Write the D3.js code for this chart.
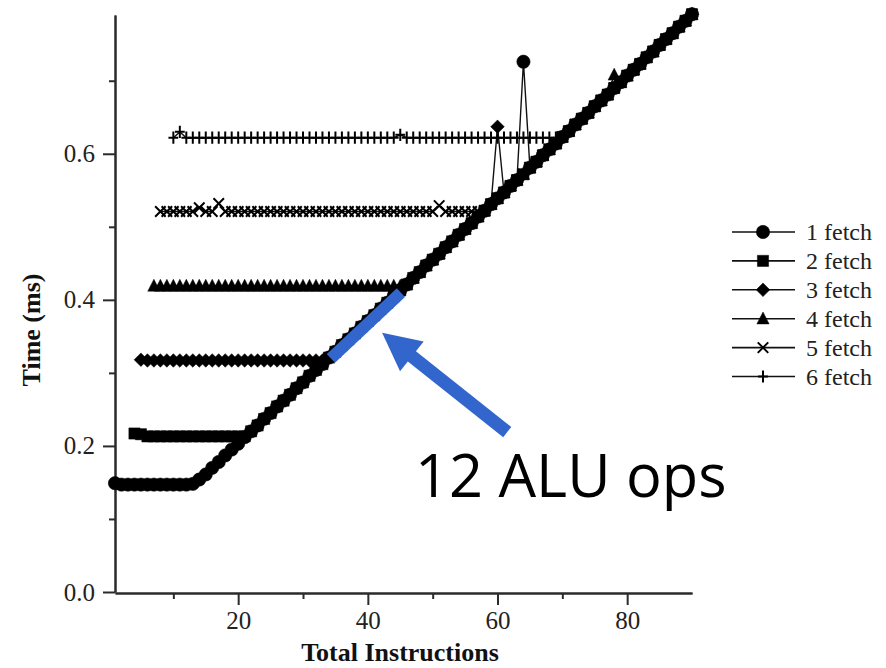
<!DOCTYPE html>
<html><head><meta charset="utf-8">
<script src="https://cdn.jsdelivr.net/npm/d3@7"></script>
<style>body{margin:0;background:#fff;} svg{display:block;}</style>
</head><body><svg id="chart" width="886" height="668"></svg>
<script>
// ---------------- DATA ----------------
const seriesNames = ["1 fetch", "2 fetch", "3 fetch", "4 fetch", "5 fetch", "6 fetch"];
const seriesStart = [1, 4, 5, 7, 8, 10];   // first "Total Instructions" value of each series

const fetch1 = [ // x = 1..90
  0.149,0.147,0.147,0.147,0.147,0.147,0.147,0.147,0.147,0.147,
  0.147,0.147,0.148,0.154,0.161,0.170,0.178,0.187,0.195,0.203,
  0.212,0.220,0.228,0.237,0.245,0.254,0.262,0.270,0.279,0.287,
  0.296,0.304,0.312,0.321,0.329,0.338,0.346,0.354,0.363,0.371,
  0.379,0.388,0.396,0.405,0.413,0.421,0.430,0.438,0.447,0.455,
  0.463,0.472,0.480,0.489,0.497,0.505,0.514,0.522,0.531,0.539,
  0.547,0.556,0.564,0.726,0.581,0.589,0.598,0.606,0.614,0.623,
  0.631,0.640,0.648,0.656,0.665,0.673,0.681,0.690,0.698,0.707,
  0.715,0.723,0.732,0.740,0.749,0.757,0.765,0.774,0.782,0.791
];
const fetch2 = [ // x = 4..90
                    0.217,0.216,0.213,0.213,0.213,0.213,0.213,
  0.213,0.213,0.213,0.213,0.213,0.213,0.213,0.213,0.213,0.213,
  0.213,0.220,0.228,0.237,0.245,0.254,0.262,0.270,0.279,0.287,
  0.296,0.304,0.312,0.321,0.329,0.338,0.346,0.354,0.363,0.371,
  0.379,0.388,0.396,0.405,0.413,0.421,0.430,0.438,0.447,0.455,
  0.463,0.472,0.480,0.489,0.497,0.505,0.514,0.522,0.531,0.539,
  0.547,0.556,0.564,0.572,0.581,0.589,0.598,0.606,0.614,0.623,
  0.631,0.640,0.648,0.656,0.665,0.673,0.681,0.690,0.698,0.707,
  0.715,0.723,0.732,0.740,0.749,0.757,0.765,0.774,0.782,0.791
];
const fetch3 = [ // x = 5..90
                          0.318,0.317,0.317,0.317,0.317,0.317,
  0.317,0.317,0.317,0.317,0.317,0.317,0.317,0.317,0.317,0.317,
  0.317,0.317,0.317,0.317,0.317,0.317,0.317,0.317,0.317,0.317,
  0.317,0.317,0.317,0.321,0.329,0.338,0.346,0.354,0.363,0.371,
  0.379,0.388,0.396,0.405,0.413,0.421,0.430,0.438,0.447,0.455,
  0.463,0.472,0.480,0.489,0.497,0.505,0.514,0.522,0.531,0.637,
  0.547,0.556,0.564,0.572,0.581,0.589,0.598,0.606,0.614,0.623,
  0.631,0.640,0.648,0.656,0.665,0.673,0.681,0.690,0.698,0.707,
  0.715,0.723,0.732,0.740,0.749,0.757,0.765,0.774,0.782,0.791
];
const fetch4 = [ // x = 7..90
                                      0.419,0.419,0.419,0.419,
  0.419,0.419,0.419,0.419,0.419,0.419,0.419,0.419,0.419,0.419,
  0.419,0.419,0.419,0.419,0.419,0.419,0.419,0.419,0.419,0.419,
  0.419,0.419,0.419,0.419,0.419,0.419,0.419,0.419,0.419,0.419,
  0.419,0.419,0.419,0.419,0.419,0.421,0.430,0.438,0.447,0.455,
  0.463,0.472,0.480,0.489,0.497,0.505,0.514,0.522,0.531,0.539,
  0.547,0.556,0.564,0.572,0.581,0.589,0.598,0.606,0.614,0.623,
  0.631,0.640,0.648,0.656,0.665,0.673,0.681,0.708,0.698,0.707,
  0.715,0.723,0.732,0.740,0.749,0.757,0.765,0.774,0.782,0.791
];
const fetch5 = [ // x = 8..90
                                            0.521,0.521,0.521,
  0.521,0.521,0.521,0.526,0.521,0.521,0.532,0.521,0.521,0.521,
  0.521,0.521,0.521,0.521,0.521,0.521,0.521,0.521,0.521,0.521,
  0.521,0.521,0.521,0.521,0.521,0.521,0.521,0.521,0.521,0.521,
  0.521,0.521,0.521,0.521,0.521,0.521,0.521,0.521,0.521,0.521,
  0.529,0.521,0.521,0.521,0.521,0.521,0.521,0.522,0.531,0.539,
  0.547,0.556,0.564,0.572,0.581,0.589,0.598,0.606,0.614,0.623,
  0.631,0.640,0.648,0.656,0.665,0.673,0.681,0.690,0.698,0.707,
  0.715,0.723,0.732,0.740,0.749,0.757,0.765,0.774,0.782,0.791
];
const fetch6 = [ // x = 10..90
                                                        0.622,
  0.630,0.622,0.622,0.622,0.622,0.622,0.622,0.622,0.622,0.622,
  0.622,0.622,0.622,0.622,0.622,0.622,0.622,0.622,0.622,0.622,
  0.622,0.622,0.622,0.622,0.622,0.622,0.622,0.622,0.622,0.622,
  0.622,0.622,0.622,0.622,0.626,0.622,0.622,0.622,0.622,0.622,
  0.622,0.622,0.622,0.622,0.622,0.622,0.622,0.622,0.622,0.622,
  0.622,0.622,0.622,0.622,0.622,0.622,0.622,0.622,0.622,0.623,
  0.631,0.640,0.648,0.656,0.665,0.673,0.681,0.690,0.698,0.707,
  0.715,0.723,0.732,0.740,0.749,0.757,0.765,0.774,0.782,0.791
];

const xMajorTicks = [20, 40, 60, 80];
const xTickLabels = ["20", "40", "60", "80"];
const xMinorTicks = [10, 30, 50, 70];
const yMajorTicks = [0, 0.2, 0.4, 0.6];
const yTickLabels = ["0.0", "0.2", "0.4", "0.6"];
const yMinorTicks = [0.1, 0.3, 0.5, 0.7];

const xTitle = "Total Instructions";
const yTitle = "Time (ms)";
const annotationText = "12 ALU ops";
// highlighted stretch of the compute-bound line and arrow (data space)
const highlightSeg = [[34.3, 0.320], [45.1, 0.410]];
const arrowSeg = [[61.5, 0.219], [42.2, 0.355]];

// ---------------- CHART ----------------
const svg = d3.select("#chart");
const serif = "'Liberation Serif','Times New Roman',serif";
const x = d3.scaleLinear().domain([1, 90]).range([115, 692]);
const y = d3.scaleLinear().domain([0, 0.79]).range([592, 15]);

const allSeries = [fetch1, fetch2, fetch3, fetch4, fetch5, fetch6].map((vals, i) =>
  vals.map((v, j) => [seriesStart[i] + j, v]));

// custom symbol shapes
const symDiamond = { draw(c, s) { const r = Math.sqrt(s) / 2; c.moveTo(0, -r); c.lineTo(r, 0); c.lineTo(0, r); c.lineTo(-r, 0); c.closePath(); } };
const symTriangle = { draw(c, s) { const r = Math.sqrt(s) / 2; c.moveTo(0, -r * 1.1); c.lineTo(r, r * 0.85); c.lineTo(-r, r * 0.85); c.closePath(); } };
const symTimes = { draw(c, s) { const r = Math.sqrt(s) / 2; c.moveTo(-r, -r); c.lineTo(r, r); c.moveTo(r, -r); c.lineTo(-r, r); } };
const symPlus = { draw(c, s) { const r = Math.sqrt(s) / 2; c.moveTo(0, -r); c.lineTo(0, r); c.moveTo(-r * 0.8, 0); c.lineTo(r * 0.8, 0); } };

const markerDefs = [
  { type: d3.symbolCircle, size: 140, filled: true },
  { type: d3.symbolSquare, size: 125, filled: true },
  { type: symDiamond, size: 185, filled: true },
  { type: symTriangle, size: 150, filled: true },
  { type: symTimes, size: 110, filled: false },
  { type: symPlus, size: 150, filled: false }
];

// axes
const axisColor = "#2b2b2b";
function styleAxis(g) {
  g.selectAll("path.domain").attr("stroke", axisColor).attr("stroke-width", 2);
  g.selectAll(".tick line").attr("stroke", axisColor).attr("stroke-width", 2);
  g.selectAll(".tick text").attr("fill", "#222").style("font-family", serif).style("font-size", "25px");
}
const gxMinor = svg.append("g").attr("transform", "translate(0,593)")
  .call(d3.axisBottom(x).tickValues(xMinorTicks).tickSize(6).tickSizeOuter(0).tickFormat(""));
styleAxis(gxMinor);
const gx = svg.append("g").attr("transform", "translate(0,593)")
  .call(d3.axisBottom(x).tickValues(xMajorTicks).tickSize(12).tickSizeOuter(0)
    .tickFormat((d, i) => xTickLabels[i]).tickPadding(6));
styleAxis(gx);
const gyMinor = svg.append("g").attr("transform", "translate(115,0)")
  .call(d3.axisLeft(y).tickValues(yMinorTicks).tickSize(6).tickSizeOuter(0).tickFormat(""));
styleAxis(gyMinor);
const gy = svg.append("g").attr("transform", "translate(115,0)")
  .call(d3.axisLeft(y).tickValues(yMajorTicks).tickSize(12).tickSizeOuter(0)
    .tickFormat((d, i) => yTickLabels[i]).tickPadding(8));
styleAxis(gy);

// lines
const line = d3.line().x(d => x(d[0])).y(d => y(d[1]));
svg.append("g").selectAll("path").data(allSeries).join("path")
  .attr("d", line).attr("fill", "none").attr("stroke", "#111").attr("stroke-width", 1.4);

// markers
allSeries.forEach((pts, i) => {
  const m = markerDefs[i];
  const sym = d3.symbol().type(m.type).size(m.size);
  svg.append("g").selectAll("path").data(pts).join("path")
    .attr("transform", d => `translate(${x(d[0])},${y(d[1])})`)
    .attr("d", sym)
    .attr("fill", m.filled ? "#000" : "none")
    .attr("stroke", "#000")
    .attr("stroke-width", m.filled ? 0.5 : 2);
});

// axis titles
svg.append("text").attr("x", 400).attr("y", 661).attr("text-anchor", "middle")
  .style("font-family", serif).style("font-weight", "bold").style("font-size", "26px")
  .attr("fill", "#111").text(xTitle);
svg.append("text").attr("transform", "translate(40,330) rotate(-90)").attr("text-anchor", "middle")
  .style("font-family", serif).style("font-weight", "bold").style("font-size", "26px")
  .attr("fill", "#111").text(yTitle);

// legend
const legend = svg.append("g");
seriesNames.forEach((name, i) => {
  const ly = 232 + i * 28.9;
  const g = legend.append("g").attr("transform", `translate(0,${ly})`);
  g.append("line").attr("x1", 732).attr("x2", 795).attr("y1", 0).attr("y2", 0)
    .attr("stroke", "#111").attr("stroke-width", 1.6);
  const m = markerDefs[i];
  g.append("path").attr("transform", "translate(763,0)")
    .attr("d", d3.symbol().type(m.type).size(m.size))
    .attr("fill", m.filled ? "#000" : "none").attr("stroke", "#000")
    .attr("stroke-width", m.filled ? 0.5 : 2);
  g.append("text").attr("x", 806).attr("y", 0).attr("dy", "0.35em")
    .style("font-family", serif).style("font-size", "24px").attr("fill", "#222").text(name);
});

// annotation
const blue = "#3366cc";
svg.append("line")
  .attr("x1", x(highlightSeg[0][0])).attr("y1", y(highlightSeg[0][1]))
  .attr("x2", x(highlightSeg[1][0])).attr("y2", y(highlightSeg[1][1]))
  .attr("stroke", blue).attr("stroke-width", 12);

const tx = x(arrowSeg[0][0]), ty = y(arrowSeg[0][1]);
const hx = x(arrowSeg[1][0]), hy = y(arrowSeg[1][1]);
const L = Math.hypot(hx - tx, hy - ty), ux = (hx - tx) / L, uy = (hy - ty) / L;
const headLen = 38, headHalf = 19;
const bx = hx - ux * headLen, by = hy - uy * headLen;
svg.append("line").attr("x1", tx).attr("y1", ty).attr("x2", bx + ux * 2).attr("y2", by + uy * 2)
  .attr("stroke", blue).attr("stroke-width", 13);
svg.append("path")
  .attr("d", `M${hx},${hy} L${bx - uy * headHalf},${by + ux * headHalf} L${bx + uy * headHalf},${by - ux * headHalf} Z`)
  .attr("fill", blue);

svg.append("text").attr("x", 415).attr("y", 497)
  .style("font-family", "'Open Sans', sans-serif").style("font-size", "59.5px")
  .attr("fill", "#000").text(annotationText);
</script>
</body></html>
